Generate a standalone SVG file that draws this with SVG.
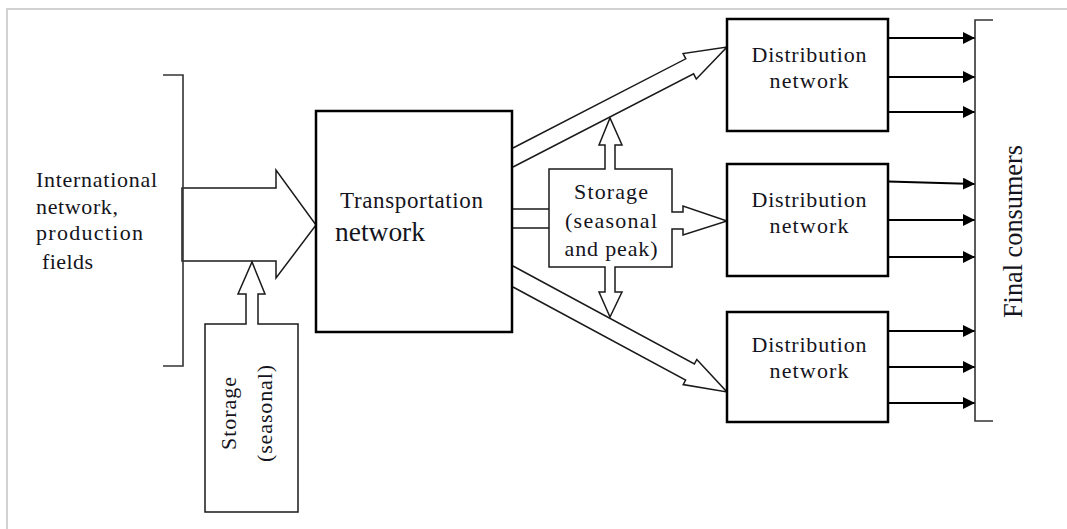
<svg xmlns="http://www.w3.org/2000/svg" width="1067" height="529" viewBox="0 0 1067 529">
<style>
  .frame{fill:none;stroke:#d2d2d2;stroke-width:2}
  .box{fill:#fff;stroke:#000;stroke-width:2.5}
  .thin{fill:#fff;stroke:#1a1a1a;stroke-width:1.5;stroke-linejoin:miter}
  .brk{fill:none;stroke:#333;stroke-width:1.6}
  .out{fill:none;stroke:#000;stroke-width:2.2}
  text{font-family:"Liberation Serif","Times New Roman",serif;fill:#141420}
  .t22{font-size:22px}
  .mid{text-anchor:middle}
</style>
<defs>
  <marker id="ah" markerUnits="userSpaceOnUse" markerWidth="13" markerHeight="13" refX="12" refY="6" orient="auto">
    <path d="M0,0 L12,6 L0,12 Z" fill="#000"/>
  </marker>
</defs>
<rect width="1067" height="529" fill="#fff"/>
<path class="frame" d="M7,529 V9 H1067"/>

<g id="connectors">
  <path class="thin" d="M182,188 H276 V170 L316,225 L276,278 V261 H182 Z"/>
  <path class="thin" d="M512,209 H549 M512,228 H549"/>
  <path class="thin" d="M513,148 L685.8,58.8 L683.1,53.6 L727,47 L696.3,79 L693.6,73.8 L513,167"/>
  <path class="thin" d="M513,266 L694.4,364 L696.8,359.5 L727,392 L683.2,384.6 L685.6,380.1 L513,287"/>
  <path class="out" marker-end="url(#ah)" d="M888,38 H975"/>
  <path class="out" marker-end="url(#ah)" d="M888,77 H975"/>
  <path class="out" marker-end="url(#ah)" d="M888,112 H975"/>
  <path class="out" marker-end="url(#ah)" d="M888,181.5 L975,184"/>
  <path class="out" marker-end="url(#ah)" d="M888,220 H975"/>
  <path class="out" marker-end="url(#ah)" d="M888,257 H975"/>
  <path class="out" marker-end="url(#ah)" d="M888,331 H975"/>
  <path class="out" marker-end="url(#ah)" d="M888,367 H975"/>
  <path class="out" marker-end="url(#ah)" d="M888,403 H975"/>
</g>

<g id="source">
  <path class="brk" d="M163,75 H183 V366 H163"/>
  <text class="t22" x="36" y="187" textLength="121" lengthAdjust="spacing">International</text>
  <text class="t22" x="36" y="214" textLength="82" lengthAdjust="spacing">network,</text>
  <text class="t22" x="36" y="240" textLength="107" lengthAdjust="spacing">production</text>
  <text class="t22" x="42" y="269" textLength="51" lengthAdjust="spacing">fields</text>
</g>

<g id="storage-seasonal">
  <path class="thin" d="M258,324 H298 V512 H205 V324 H246 V294 H238 L252,262 L265,294 H258 Z"/>
  <text class="t22 mid" transform="translate(236,413.5) rotate(-90)" textLength="73" lengthAdjust="spacing">Storage</text>
  <text class="t22 mid" transform="translate(272,413.5) rotate(-90)" textLength="97" lengthAdjust="spacing">(seasonal)</text>
</g>

<g id="transportation">
  <rect class="box" x="316" y="111" width="196" height="221"/>
  <text x="340" y="208" style="font-size:23px" textLength="143" lengthAdjust="spacing">Transportation</text>
  <text x="335" y="241" style="font-size:28px" textLength="90" lengthAdjust="spacingAndGlyphs">network</text>
</g>

<g id="storage-peak">
  <path class="thin" d="M549,169 H605 V145 H599 L610,118 L622,145 H615 V169 H672 V212 H683 V206 L727,221 L683,235 V229 H672 V267 H615 V292 H622 L610,317 L599,292 H605 V267 H549 Z"/>
  <text class="t22 mid" x="611" y="199" textLength="74" lengthAdjust="spacing">Storage</text>
  <text class="t22 mid" x="611" y="228" textLength="92" lengthAdjust="spacing">(seasonal</text>
  <text class="t22 mid" x="611" y="256" textLength="93" lengthAdjust="spacing">and peak)</text>
</g>

<g id="dist1">
  <rect class="box" x="727" y="19" width="161" height="112"/>
  <text class="t22 mid" x="809" y="62" textLength="115" lengthAdjust="spacing">Distribution</text>
  <text class="t22 mid" x="809" y="88" textLength="79" lengthAdjust="spacing">network</text>
</g>
<g id="dist2">
  <rect class="box" x="727" y="164" width="161" height="112"/>
  <text class="t22 mid" x="809" y="207" textLength="115" lengthAdjust="spacing">Distribution</text>
  <text class="t22 mid" x="809" y="233" textLength="79" lengthAdjust="spacing">network</text>
</g>
<g id="dist3">
  <rect class="box" x="727" y="312" width="161" height="110"/>
  <text class="t22 mid" x="809" y="352" textLength="115" lengthAdjust="spacing">Distribution</text>
  <text class="t22 mid" x="809" y="378" textLength="79" lengthAdjust="spacing">network</text>
</g>

<g id="consumers">
  <path class="brk" d="M993,20 H975 V421 H993"/>
  <text class="mid" transform="translate(1022,231.5) rotate(-90)" style="font-size:27px" textLength="173" lengthAdjust="spacingAndGlyphs">Final consumers</text>
</g>
</svg>
